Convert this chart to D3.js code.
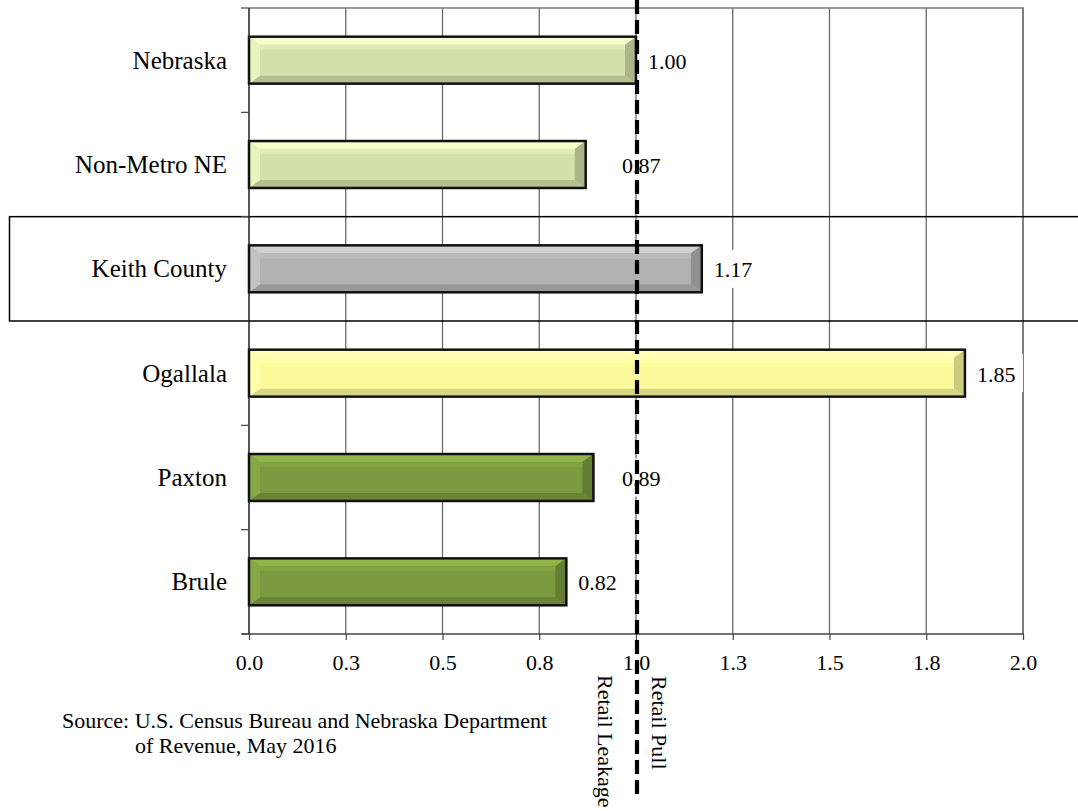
<!DOCTYPE html>
<html>
<head>
<meta charset="utf-8">
<script src="https://cdn.jsdelivr.net/npm/d3@7"></script>
<style>
  html, body { margin: 0; padding: 0; background: #fff; }
  svg { display: block; font-family: "Liberation Serif", "Times New Roman", serif; }
</style>
</head>
<body>
<svg id="chart" width="1078" height="811"></svg>
<script>
// ---- data ----
const categories = ["Nebraska", "Non-Metro NE", "Keith County", "Ogallala", "Paxton", "Brule"];
const pullFactors = [1.00, 0.87, 1.17, 1.85, 0.89, 0.82];
const barColors = ["#d2e1aa", "#d2e1aa", "#b2b2b2", "#fbfb9c", "#7c9a3f", "#7c9a3f"];
const tickValues = [0, 0.25, 0.5, 0.75, 1.0, 1.25, 1.5, 1.75, 2.0];
const tickLabels = ["0.0", "0.3", "0.5", "0.8", "1.0", "1.3", "1.5", "1.8", "2.0"];
const highlighted = "Keith County";
const referenceValue = 1.0;
const leftNote = "Retail Leakage";
const rightNote = "Retail Pull";
const sourceLines = ["Source: U.S. Census Bureau and Nebraska Department", "of Revenue, May 2016"];

// ---- layout ----
const W = 1078, H = 811;
const plot = { left: 249, right: 1023, top: 8, bottom: 634 };
const svg = d3.select("#chart");

const x = d3.scaleLinear().domain([0, 2]).range([plot.left, plot.right]);
const y = d3.scaleBand().domain(categories).range([plot.top, plot.bottom])
  .paddingInner(0.55).paddingOuter(0.275);
const step = y.step();
const gapHalf = step * 0.55 / 2;

svg.append("rect").attr("width", W).attr("height", H).attr("fill", "#fff");

// gridlines
svg.append("g").selectAll("line").data(tickValues.filter(d => d > 0)).join("line")
  .attr("x1", d => x(d)).attr("x2", d => x(d))
  .attr("y1", plot.top).attr("y2", plot.bottom)
  .attr("stroke", "#6a6a6a").attr("stroke-width", 1.3);
// plot top border
svg.append("line").attr("x1", plot.left).attr("x2", plot.right + 1)
  .attr("y1", plot.top).attr("y2", plot.top)
  .attr("stroke", "#7a7a7a").attr("stroke-width", 1.6);
svg.append("line").attr("x1", plot.right).attr("x2", plot.right)
  .attr("y1", plot.top).attr("y2", plot.bottom)
  .attr("stroke", "#7a7a7a").attr("stroke-width", 1.8);

// highlight box for Keith County
const hy = y(highlighted) - gapHalf;
svg.append("rect")
  .attr("x", 9.5).attr("y", hy).attr("width", W + 20).attr("height", step)
  .attr("fill", "none").attr("stroke", "#000").attr("stroke-width", 1.5);

// x axis
const xAxis = svg.append("g").attr("transform", `translate(0,${plot.bottom})`)
  .call(d3.axisBottom(x).tickValues(tickValues).tickSize(6)
    .tickFormat((d, i) => tickLabels[i]));
xAxis.select(".domain").remove();
xAxis.append("line").attr("x1", plot.left - 7).attr("x2", plot.right + 1)
  .attr("stroke", "#444").attr("stroke-width", 1.3);
xAxis.selectAll(".tick line").attr("stroke", "#444").attr("stroke-width", 1.2);
xAxis.selectAll(".tick text")
  .attr("font-family", "Liberation Serif, Times New Roman, serif")
  .attr("font-size", 22).attr("fill", "#000").attr("dy", null).attr("y", 36);

// y axis line & boundary ticks
svg.append("line").attr("x1", plot.left).attr("x2", plot.left)
  .attr("y1", plot.top).attr("y2", plot.bottom)
  .attr("stroke", "#000").attr("stroke-width", 1.3);
const bounds = categories.map(c => y(c) - gapHalf).concat([plot.bottom]);
svg.append("g").selectAll("line").data(bounds).join("line")
  .attr("x1", plot.left - 8).attr("x2", plot.left)
  .attr("y1", d => d).attr("y2", d => d)
  .attr("stroke", "#444").attr("stroke-width", 1.2);

// category labels
svg.append("g").selectAll("text").data(categories).join("text")
  .attr("x", 227).attr("y", d => y(d) + y.bandwidth() / 2 + 8.5)
  .attr("text-anchor", "end").attr("font-size", 25).attr("fill", "#000")
  .text(d => d);

// bars with bevel
const bars = svg.append("g");
categories.forEach((c, i) => {
  const x0 = x(0), x1 = x(pullFactors[i]);
  const y0 = y(c), y1 = y(c) + y.bandwidth();
  const base = d3.color(barColors[i]);
  const g = bars.append("g");
  const bh = 11, bv = 8;
  g.append("rect").attr("x", x0).attr("y", y0).attr("width", x1 - x0).attr("height", y1 - y0)
    .attr("fill", base.formatHex());
  const poly = (pts, fill) => g.append("polygon")
    .attr("points", pts.map(p => p.join(",")).join(" ")).attr("fill", fill);
  poly([[x0, y0], [x1, y0], [x1 - bh, y0 + bv], [x0 + bh, y0 + bv]], base.brighter(0.45).formatHex());
  poly([[x0, y1], [x1, y1], [x1 - bh, y1 - bv], [x0 + bh, y1 - bv]], base.darker(0.45).formatHex());
  poly([[x0, y0], [x0 + bh, y0 + bv], [x0 + bh, y1 - bv], [x0, y1]], base.brighter(0.25).formatHex());
  poly([[x1, y0], [x1 - bh, y0 + bv], [x1 - bh, y1 - bv], [x1, y1]], base.darker(0.6).formatHex());
  // soft highlight strip under top bevel
  g.append("rect").attr("x", x0 + bh).attr("y", y0 + bv).attr("width", Math.max(0, x1 - x0 - 2 * bh))
    .attr("height", 5).attr("fill", base.brighter(0.15).formatHex());
  g.append("rect").attr("x", x0).attr("y", y0).attr("width", x1 - x0).attr("height", y1 - y0)
    .attr("fill", "none").attr("stroke", "#111").attr("stroke-width", 2.5);
});

// value labels
const fmt = d3.format(".2f");
const labels = svg.append("g");
categories.forEach((c, i) => {
  const v = pullFactors[i];
  const tw = 41;
  let lx = x(v) + 12;
  const rx = x(referenceValue);
  if (v < referenceValue && lx + tw > rx - 4) lx = rx - 14;
  const cy = y(c) + y.bandwidth() / 2;
  labels.append("rect").attr("x", lx - 3).attr("y", cy - 19).attr("width", tw + 8).attr("height", 38)
    .attr("fill", "#fff");
  labels.append("text").attr("x", lx).attr("y", cy + 8.5)
    .attr("font-size", 22).attr("fill", "#000").text(fmt(v));
});

// reference dashed line
const rx = x(referenceValue) + 1;
svg.append("line").attr("x1", rx).attr("x2", rx).attr("y1", 0).attr("y2", 797)
  .attr("stroke", "#000").attr("stroke-width", 4.2).attr("stroke-dasharray", "14,6");

// rotated notes
svg.append("text").attr("transform", `translate(598,675) rotate(90)`)
  .attr("font-size", 22).attr("fill", "#000").text(leftNote);
svg.append("text").attr("transform", `translate(652,676) rotate(90)`)
  .attr("font-size", 22).attr("fill", "#000").text(rightNote);

// source
svg.append("text").attr("x", 62).attr("y", 728).attr("font-size", 22).attr("fill", "#000").text(sourceLines[0]);
svg.append("text").attr("x", 135).attr("y", 753).attr("font-size", 22).attr("fill", "#000").text(sourceLines[1]);
</script>
</body>
</html>
